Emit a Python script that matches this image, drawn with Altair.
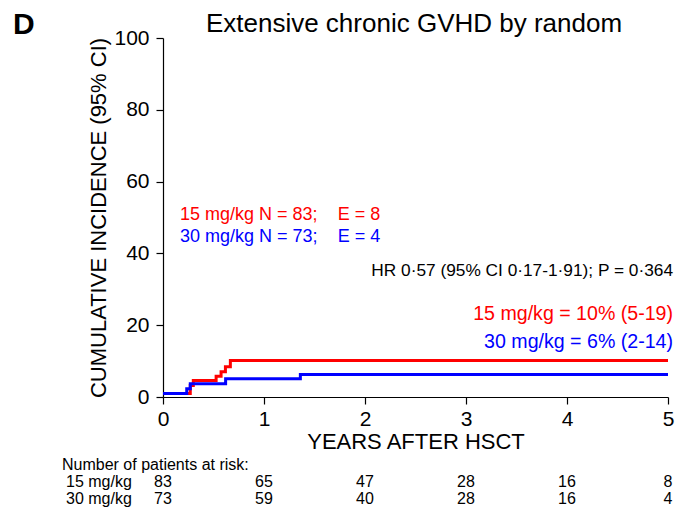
import altair as alt
import pandas as pd

FONT = "Liberation Sans"
RED = "#ff0000"
BLUE = "#0000ff"

# step curves (years, cumulative incidence %)
red_t = [0.0, 0.27, 0.30, 0.526, 0.575, 0.618, 0.667, 5.0]
red_v = [1.0, 3.2, 4.6, 5.8, 7.0, 8.4, 10.2, 10.2]
blue_t = [0.0, 0.235, 0.27, 0.62, 1.36, 5.0]
blue_v = [1.0, 2.3, 3.7, 5.1, 6.3, 6.3]

# numbers at risk
risk_years = [0, 1, 2, 3, 4, 5]
risk_15 = [83, 65, 47, 28, 16, 8]
risk_30 = [73, 59, 40, 28, 16, 4]

groups = ["15 mg/kg", "30 mg/kg"]

curves = pd.DataFrame(
    {"t": red_t + blue_t,
     "v": red_v + blue_v,
     "g": [groups[0]] * len(red_t) + [groups[1]] * len(blue_t)}
)
risk = pd.DataFrame({"year": risk_years, "n15": risk_15, "n30": risk_30})

x_scale = alt.Scale(domain=[0, 5], nice=False, zero=False)
y_scale = alt.Scale(domain=[0, 100], nice=False)

lines = alt.Chart(curves).mark_line(interpolate="step-after", strokeWidth=3).encode(
    x=alt.X("t:Q", scale=x_scale,
            axis=alt.Axis(values=risk_years, format="d", title="YEARS AFTER HSCT",
                          labelFlush=False, labelOverlap=False, titlePadding=2,
                          labelPadding=4)),
    y=alt.Y("v:Q", scale=y_scale,
            axis=alt.Axis(values=list(range(0, 101, 5)),
                          labelExpr="datum.value % 20 === 0 ? datum.label : ''",
                          title="CUMULATIVE INCIDENCE (95% CI)",
                          labelFlush=False, labelOverlap=False, labelPadding=7,
                          titleX=-58, titleY=179.5, titleAngle=270,
                          titleAlign="center", titleBaseline="alphabetic")),
    color=alt.Color("g:N", scale=alt.Scale(domain=groups, range=[RED, BLUE]), legend=None),
)


def label(text, x, y, color, size, align="left"):
    return alt.Chart(pd.DataFrame({"t": [text]})).mark_text(
        text=text, align=align, baseline="middle", fontSize=size, color=color, font=FONT
    ).encode(x=alt.datum(x), y=alt.datum(y))


def pixel_text(text, x, y, size, color="black", align="left", weight="normal"):
    return alt.Chart(pd.DataFrame({"t": [text]})).mark_text(
        text=text, align=align, baseline="middle", fontSize=size, color=color,
        font=FONT, fontWeight=weight
    ).encode(x=alt.value(x), y=alt.value(y))


annotations = [
    label("15 mg/kg N = 83;", 0.168, 50.7, RED, 18),
    label("E = 8", 1.73, 50.7, RED, 18),
    label("30 mg/kg N = 73;", 0.168, 44.6, BLUE, 18),
    label("E = 4", 1.73, 44.6, BLUE, 18),
    label("HR 0·57 (95% CI 0·17-1·91); P = 0·364", 5.05, 35.1, "black", 17.3, "right"),
    label("15 mg/kg = 10% (5-19)", 5.05, 23.1, RED, 19.6, "right"),
    label("30 mg/kg = 6% (2-14)", 5.05, 15.3, BLUE, 19.6, "right"),
]

titles = [
    pixel_text("Extensive chronic GVHD by random", 251, -14, 26, align="center"),
    pixel_text("D", -150, -13, 30, weight="bold"),
    pixel_text("Number of patients at risk:", -101, 427, 16),
    pixel_text("15 mg/kg", -97, 444, 16),
    pixel_text("30 mg/kg", -97, 461, 16),
]

risk_rows = [
    alt.Chart(risk).mark_text(fontSize=16, font=FONT, color="black", baseline="middle").encode(
        x=alt.X("year:Q"), y=alt.value(444), text="n15:Q"),
    alt.Chart(risk).mark_text(fontSize=16, font=FONT, color="black", baseline="middle").encode(
        x=alt.X("year:Q"), y=alt.value(461), text="n30:Q"),
]

chart = alt.layer(lines, *annotations, *titles, *risk_rows).properties(
    width=505, height=359,
    autosize=alt.AutoSizeParams(type="none"),
    padding={"left": 155, "top": 30, "right": 7, "bottom": 110},
).configure_view(stroke=None).configure_axis(
    grid=False, domainColor="black", tickColor="black", tickSize=7, domainWidth=1.2,
    tickWidth=1.2, labelColor="black", labelFont=FONT, labelFontSize=21,
    titleFont=FONT, titleFontSize=22, titleFontWeight="normal", titleColor="black",
)

chart.save("out.html", embed_options={"renderer": "svg", "actions": False})
